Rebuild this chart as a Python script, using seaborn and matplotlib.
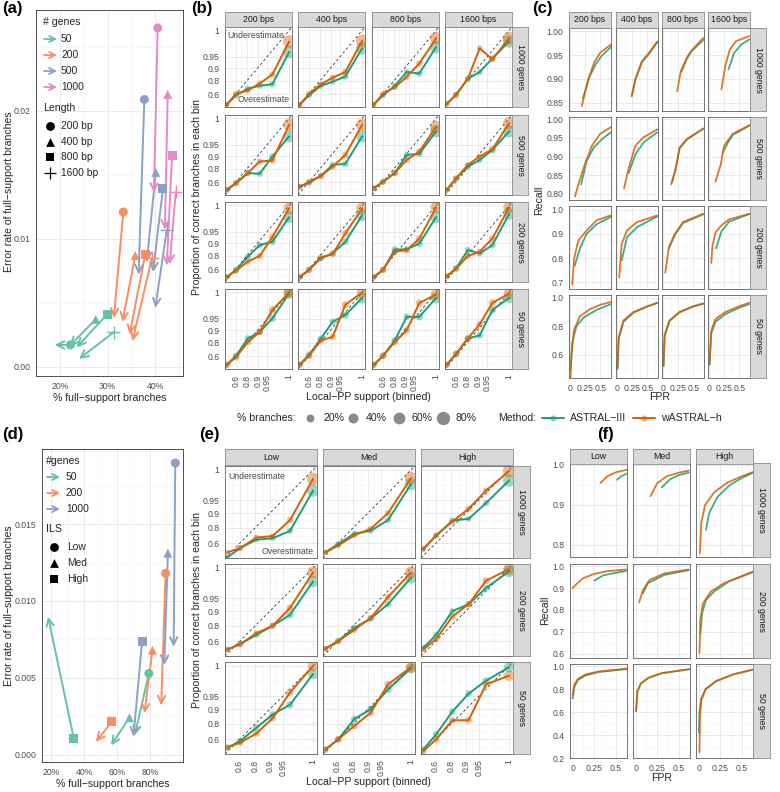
# -*- coding: utf-8 -*-
# ASTRAL-III x wASTRAL-h: erro dos ramos com suporte total, calibracao do local PP e recall x FPR
import numpy as np
import pandas as pd
import matplotlib
matplotlib.use('Agg')
import matplotlib.pyplot as plt
import seaborn as sns

sns.set_theme(style='white')
plt.rcParams['font.family'] = ['Liberation Sans', 'DejaVu Sans']

# %% dados painel (a) - seta vai do ASTRAL-III (marcador) ao wASTRAL-h (ponta)
a_genes = ['50'] * 4 + ['200'] * 4 + ['500'] * 4 + ['1000'] * 4
a_length = ['200 bp', '400 bp', '800 bp', '1600 bp'] * 4
a_full_astral = [22.2, 27.5, 29.9, 31.3, 33.3, 35.8, 37.9, 39.3,
                 37.7, 40.1, 41.6, 42.4, 40.5, 42.6, 43.5, 44.3]
a_err_astral = [0.0017, 0.0037, 0.0041, 0.0027, 0.0121, 0.0087, 0.0088, 0.0085,
                0.0209, 0.0152, 0.0139, 0.0107, 0.0265, 0.0213, 0.0165, 0.0137]
a_full_wastral = [18.9, 22.0, 23.5, 24.0, 31.3, 33.1, 34.6, 35.2,
                  36.5, 38.2, 39.5, 40.0, 39.7, 42.0, 42.4, 43.0]
a_err_wastral = [0.0017, 0.0016, 0.0015, 0.0006, 0.0038, 0.0035, 0.0025, 0.0020,
                 0.0072, 0.0082, 0.0074, 0.0046, 0.0136, 0.0107, 0.0079, 0.0080]

# %% dados painel (d)
d_genes = ['50'] * 3 + ['200'] * 3 + ['1000'] * 3
d_ils = ['Low', 'Med', 'High'] * 3
d_full_astral = [79.4, 67.6, 33.7, 89.6, 81.6, 56.7, 95.5, 91.0, 75.3]
d_err_astral = [0.00528, 0.0024, 0.00104, 0.0118, 0.0068, 0.00213, 0.01898, 0.01311, 0.00739]
d_full_wastral = [70.8, 56.3, 18.0, 86.9, 76.7, 47.1, 94.5, 88.8, 70.0]
d_err_wastral = [0.00126, 0.0006, 0.00898, 0.0032, 0.0027, 0.00083, 0.00702, 0.00583, 0.00115]

# %% dados paineis (b) e (e) - proporcao correta por classe de suporte
bins = [0.32, 0.61, 0.81, 0.913, 0.968, 1.0]
b_bps = ['200 bps', '400 bps', '800 bps', '1600 bps']
b_rows = ['1000 genes', '500 genes', '200 genes', '50 genes']

b_astral_1000 = [[0.33, 0.58, 0.70, 0.74, 0.76, 0.964], [0.33, 0.58, 0.74, 0.79, 0.84, 0.973],
                 [0.33, 0.58, 0.74, 0.875, 0.864, 0.976], [0.36, 0.59, 0.82, 0.875, 0.944, 0.986]]
b_wastral_1000 = [[0.33, 0.61, 0.67, 0.77, 0.856, 0.986], [0.33, 0.61, 0.76, 0.83, 0.875, 0.987],
                  [0.33, 0.61, 0.72, 0.837, 0.923, 0.991], [0.36, 0.59, 0.82, 0.973, 0.941, 0.991]]
b_astral_500 = [[0.40, 0.59, 0.75, 0.74, 0.897, 0.973], [0.50, 0.59, 0.71, 0.837, 0.845, 0.973],
                [0.46, 0.61, 0.75, 0.906, 0.912, 0.983], [0.415, 0.67, 0.82, 0.875, 0.93, 0.983]]
b_wastral_500 = [[0.43, 0.58, 0.75, 0.864, 0.871, 0.993], [0.50, 0.61, 0.71, 0.82, 0.906, 0.993],
                 [0.46, 0.61, 0.75, 0.875, 0.923, 0.99], [0.415, 0.67, 0.837, 0.897, 0.933, 0.995]]
b_astral_200 = [[0.41, 0.59, 0.79, 0.887, 0.907, 0.985], [0.41, 0.59, 0.77, 0.823, 0.907, 0.988],
                [0.41, 0.59, 0.857, 0.857, 0.897, 0.985], [0.43, 0.62, 0.852, 0.823, 0.887, 0.99]]
b_wastral_200 = [[0.41, 0.57, 0.73, 0.797, 0.93, 0.997], [0.41, 0.59, 0.78, 0.817, 0.944, 0.997],
                 [0.41, 0.59, 0.838, 0.852, 0.923, 0.998], [0.43, 0.61, 0.797, 0.838, 0.923, 0.998]]
b_astral_50 = [[0.39, 0.61, 0.84, 0.888, 0.951, 0.999], [0.39, 0.63, 0.838, 0.939, 0.961, 0.994],
               [0.39, 0.61, 0.823, 0.956, 0.956, 0.994], [0.39, 0.645, 0.84, 0.865, 0.974, 0.994]]
b_wastral_50 = [[0.39, 0.58, 0.807, 0.888, 0.974, 1.0], [0.39, 0.61, 0.823, 0.853, 0.984, 1.0],
                [0.39, 0.61, 0.807, 0.898, 0.987, 0.998], [0.39, 0.645, 0.84, 0.929, 0.987, 0.999]]
b_pct_1000 = [3, 6, 6, 6, 9, 70]
b_pct_500 = [4, 7, 7, 7, 10, 65]
b_pct_200 = [5, 8, 8, 8, 12, 59]
b_pct_50 = [7, 10, 10, 10, 15, 48]

e_ils = ['Low', 'Med', 'High']
e_rows = ['1000 genes', '200 genes', '50 genes']
e_astral_1000 = [[0.27, 0.51, 0.66, 0.68, 0.77, 0.973], [0.41, 0.59, 0.74, 0.77, 0.86, 0.984],
                 [0.49, 0.715, 0.857, 0.868, 0.941, 0.989]]
e_wastral_1000 = [[0.41, 0.51, 0.69, 0.71, 0.86, 0.991], [0.41, 0.56, 0.72, 0.79, 0.90, 0.992],
                  [0.49, 0.72, 0.85, 0.92, 0.973, 0.999]]
e_astral_200 = [[0.43, 0.55, 0.70, 0.80, 0.88, 0.985], [0.45, 0.61, 0.78, 0.857, 0.93, 0.99],
                [0.47, 0.70, 0.90, 0.93, 0.974, 0.997]]
e_wastral_200 = [[0.43, 0.55, 0.72, 0.80, 0.915, 0.996], [0.45, 0.60, 0.76, 0.86, 0.953, 0.996],
                 [0.43, 0.64, 0.87, 0.93, 0.986, 0.999]]
e_astral_50 = [[0.43, 0.57, 0.76, 0.87, 0.92, 0.992], [0.38, 0.60, 0.84, 0.90, 0.967, 0.998],
               [0.38, 0.68, 0.887, 0.957, 0.983, 0.999]]
e_wastral_50 = [[0.43, 0.54, 0.69, 0.845, 0.96, 1.0], [0.38, 0.60, 0.78, 0.88, 0.977, 0.999],
                [0.34, 0.60, 0.83, 0.83, 0.977, 0.99]]
e_pct_1000 = [3, 6, 6, 6, 9, 70]
e_pct_200 = [5, 8, 8, 8, 12, 59]
e_pct_50 = [8, 11, 11, 11, 15, 44]

# %% dados painel (c) - recall x FPR (uma lista por comprimento)
c_fpr_astral_1000 = [[0.21, 0.26, 0.32, 0.42, 0.52, 0.62, 0.68], [0.24, 0.30, 0.41, 0.53, 0.67],
                     [0.30, 0.39, 0.47, 0.67], [0.32, 0.41, 0.53, 0.67]]
c_rec_astral_1000 = [[0.86, 0.88, 0.905, 0.93, 0.948, 0.96, 0.967], [0.864, 0.899, 0.935, 0.953, 0.977],
                     [0.915, 0.942, 0.958, 0.982], [0.92, 0.954, 0.972, 0.983]]
c_fpr_wastral_1000 = [[0.19, 0.24, 0.30, 0.40, 0.50, 0.60, 0.68], [0.24, 0.30, 0.41, 0.53, 0.67],
                      [0.23, 0.29, 0.39, 0.47, 0.67], [0.20, 0.27, 0.34, 0.44, 0.67]]
c_rec_wastral_1000 = [[0.843, 0.87, 0.90, 0.935, 0.955, 0.965, 0.972], [0.864, 0.899, 0.937, 0.955, 0.979],
                      [0.874, 0.916, 0.944, 0.96, 0.986], [0.878, 0.93, 0.961, 0.979, 0.99]]
c_fpr_astral_500 = [[0.18, 0.27, 0.39, 0.53, 0.68], [0.19, 0.30, 0.44, 0.67],
                    [0.14, 0.20, 0.27, 0.39, 0.67], [0.22, 0.30, 0.39, 0.67]]
c_rec_astral_500 = [[0.826, 0.888, 0.924, 0.947, 0.965], [0.856, 0.906, 0.938, 0.965],
                    [0.83, 0.862, 0.922, 0.945, 0.975], [0.91, 0.935, 0.958, 0.983]]
c_fpr_wastral_500 = [[0.074, 0.15, 0.24, 0.36, 0.50, 0.68], [0.11, 0.19, 0.30, 0.44, 0.67],
                     [0.13, 0.20, 0.27, 0.39, 0.67], [0.10, 0.19, 0.245, 0.39, 0.67]]
c_rec_wastral_500 = [[0.793, 0.834, 0.879, 0.929, 0.961, 0.979], [0.815, 0.87, 0.929, 0.952, 0.973],
                     [0.826, 0.865, 0.924, 0.947, 0.975], [0.833, 0.879, 0.929, 0.961, 0.984]]
c_fpr_astral_200 = [[0.07, 0.16, 0.27, 0.44, 0.68], [0.07, 0.16, 0.33, 0.67],
                    [0.09, 0.19, 0.33, 0.67], [0.11, 0.20, 0.33, 0.67]]
c_rec_astral_200 = [[0.768, 0.84, 0.90, 0.94, 0.97], [0.79, 0.886, 0.928, 0.972],
                    [0.84, 0.895, 0.945, 0.981], [0.84, 0.91, 0.95, 0.982]]
c_fpr_wastral_200 = [[0.03, 0.06, 0.13, 0.27, 0.44, 0.68], [0.03, 0.07, 0.16, 0.33, 0.67],
                     [0.03, 0.09, 0.19, 0.33, 0.67], [0.03, 0.05, 0.10, 0.20, 0.33, 0.67]]
c_rec_wastral_200 = [[0.69, 0.796, 0.872, 0.914, 0.956, 0.976], [0.72, 0.858, 0.914, 0.949, 0.976],
                     [0.74, 0.844, 0.90, 0.949, 0.983], [0.78, 0.85, 0.905, 0.935, 0.96, 0.983]]
c_fpr_astral_50 = [[0.0, 0.03, 0.10, 0.22, 0.44, 0.68], [0.0, 0.02, 0.10, 0.27, 0.50, 0.67],
                   [0.0, 0.02, 0.10, 0.27, 0.50, 0.67], [0.0, 0.03, 0.10, 0.27, 0.50, 0.67]]
c_rec_astral_50 = [[0.50, 0.685, 0.80, 0.86, 0.915, 0.955], [0.50, 0.71, 0.83, 0.895, 0.937, 0.963],
                   [0.52, 0.73, 0.835, 0.897, 0.938, 0.958], [0.53, 0.75, 0.83, 0.885, 0.93, 0.955]]
c_fpr_wastral_50 = [[0.0, 0.02, 0.06, 0.16, 0.33, 0.50, 0.68], [0.0, 0.02, 0.10, 0.27, 0.50, 0.67],
                    [0.0, 0.02, 0.10, 0.27, 0.50, 0.67], [0.0, 0.03, 0.10, 0.27, 0.50, 0.67]]
c_rec_wastral_50 = [[0.44, 0.61, 0.775, 0.87, 0.92, 0.95, 0.97], [0.50, 0.72, 0.84, 0.90, 0.94, 0.965],
                    [0.52, 0.74, 0.84, 0.90, 0.94, 0.96], [0.53, 0.77, 0.85, 0.90, 0.94, 0.965]]

# %% dados painel (f)
f_fpr_astral_1000 = [[0.51, 0.56, 0.62], [0.30, 0.40, 0.50, 0.61], [0.085, 0.12, 0.215, 0.36, 0.50, 0.62]]
f_rec_astral_1000 = [[0.963, 0.972, 0.978], [0.944, 0.965, 0.975, 0.981], [0.838, 0.879, 0.92, 0.95, 0.968, 0.98]]
f_fpr_wastral_1000 = [[0.32, 0.40, 0.50, 0.62], [0.17, 0.25, 0.36, 0.50, 0.61],
                      [0.015, 0.03, 0.074, 0.18, 0.33, 0.50, 0.62]]
f_rec_wastral_1000 = [[0.955, 0.972, 0.982, 0.988], [0.922, 0.955, 0.972, 0.981, 0.986],
                      [0.78, 0.855, 0.90, 0.932, 0.956, 0.972, 0.982]]
f_fpr_astral_200 = [[0.25, 0.35, 0.50, 0.62], [0.085, 0.14, 0.33, 0.61], [0.02, 0.04, 0.085, 0.18, 0.35, 0.62]]
f_rec_astral_200 = [[0.934, 0.958, 0.97, 0.978], [0.876, 0.922, 0.96, 0.982], [0.69, 0.785, 0.846, 0.885, 0.93, 0.972]]
f_fpr_wastral_200 = [[0.0, 0.05, 0.12, 0.25, 0.40, 0.62], [0.04, 0.085, 0.16, 0.33, 0.61],
                     [0.01, 0.02, 0.05, 0.14, 0.29, 0.62]]
f_rec_wastral_200 = [[0.90, 0.92, 0.945, 0.965, 0.977, 0.985], [0.834, 0.891, 0.937, 0.967, 0.985],
                     [0.603, 0.755, 0.83, 0.884, 0.922, 0.975]]
f_fpr_astral_50 = [[0.0, 0.02, 0.06, 0.15, 0.30, 0.62], [0.005, 0.02, 0.06, 0.15, 0.30, 0.62],
                   [0.003, 0.01, 0.03, 0.08, 0.20, 0.40, 0.62]]
f_rec_astral_50 = [[0.72, 0.82, 0.88, 0.92, 0.95, 0.975], [0.61, 0.78, 0.85, 0.90, 0.94, 0.975],
                   [0.42, 0.60, 0.72, 0.80, 0.87, 0.93, 0.97]]
f_fpr_wastral_50 = [[0.0, 0.02, 0.06, 0.15, 0.30, 0.62], [0.005, 0.02, 0.06, 0.15, 0.30, 0.62],
                    [0.01, 0.015, 0.03, 0.08, 0.20, 0.40, 0.62]]
f_rec_wastral_50 = [[0.75, 0.84, 0.89, 0.93, 0.955, 0.98], [0.61, 0.78, 0.85, 0.90, 0.94, 0.975],
                    [0.25, 0.55, 0.70, 0.80, 0.87, 0.93, 0.97]]

# %% estilo
W, H = 780, 792
fig = plt.figure(figsize=(W / 100, H / 100), dpi=100)

pal = {'ASTRAL-III': '#1b9e77', 'wASTRAL-h': '#d95f02'}
set2 = {'50': '#66c2a5', '200': '#fc8d62', '500': '#8da0cb', '1000': '#e78ac3'}
TXT = '#4d4d4d'
TICK = 6.2
TITLE = 7.6


def px(x, y, w, h):
    # caixa em pixels (origem no topo) -> coordenadas da figura
    return [x / W, 1 - (y + h) / H, w / W, h / H]


def base_style(ax):
    ax.set_facecolor('white')
    ax.set_axisbelow(True)
    for s in ax.spines.values():
        s.set_color('#5e5e5e')
        s.set_linewidth(0.6)
    ax.tick_params(which='major', length=2.5, width=0.5, color='#4d4d4d',
                   labelsize=TICK, labelcolor=TXT, pad=1.5)
    ax.tick_params(which='minor', length=0)
    ax.grid(which='major', color='#e6e6e6', lw=0.6)
    ax.grid(which='minor', color='#f4f4f4', lw=0.45)
    ax.set_xlabel('')
    ax.set_ylabel('')


def strip(x, y, w, h, label, rot=0):
    sax = fig.add_axes(px(x, y, w, h))
    sax.set_facecolor('#d9d9d9')
    sax.set_xticks([])
    sax.set_yticks([])
    for s in sax.spines.values():
        s.set_color('#8c8c8c')
        s.set_linewidth(0.6)
    sax.text(0.5, 0.5, label, rotation=rot, ha='center', va='center',
             fontsize=6.3, color='#1a1a1a', transform=sax.transAxes)


# escala do local PP: -log10(1.02 - p)
def fwd(p):
    p = np.asarray(p, dtype=float)
    return -np.log10(np.clip(1.02 - p, 1e-6, None))


def inv(f):
    return 1.02 - 10 ** (-np.asarray(f, dtype=float))


pp_ticks = [0.6, 0.8, 0.9, 0.95, 1.0]
pp_labels = ['0.6', '0.8', '0.9', '0.95', '1']
tf = fwd(pp_ticks)
pp_minor = list(inv(np.r_[tf[0] - (tf[1] - tf[0]) / 2, (tf[:-1] + tf[1:]) / 2]))
lim_pp = (0.25, 1.003)


def calib_panel(ax, astral, wastral, pct, show_x, show_y):
    d = pd.DataFrame({
        'support': bins + bins,
        'correct': list(astral) + list(wastral),
        'pct': pct + pct,
        'Method': ['ASTRAL-III'] * len(bins) + ['wASTRAL-h'] * len(bins)})
    sns.scatterplot(data=d, x='support', y='correct', hue='Method', size='pct',
                    sizes=(12, 112), size_norm=(0, 100), palette=pal, alpha=0.42,
                    linewidth=0, legend=False, ax=ax, zorder=2)
    sns.lineplot(data=d, x='support', y='correct', hue='Method', palette=pal,
                 estimator=None, sort=False, lw=1.4, legend=False, ax=ax, zorder=3)
    ax.set_xscale('function', functions=(fwd, inv))
    ax.set_yscale('function', functions=(fwd, inv))
    ax.plot(lim_pp, lim_pp, color='#333333', lw=0.6, ls=(0, (3, 3)), zorder=1)
    ax.set_xlim(lim_pp)
    ax.set_ylim(lim_pp)
    ax.set_xticks(pp_ticks)
    ax.set_xticks(pp_minor, minor=True)
    ax.set_yticks(pp_ticks)
    ax.set_yticks(pp_minor, minor=True)
    ax.set_xticklabels(pp_labels if show_x else [], rotation=90)
    ax.set_yticklabels(pp_labels if show_y else [])
    ax.xaxis.set_minor_formatter(plt.NullFormatter())
    ax.yaxis.set_minor_formatter(plt.NullFormatter())
    base_style(ax)
    if not show_x:
        ax.tick_params(axis='x', which='major', length=0)
    if not show_y:
        ax.tick_params(axis='y', which='major', length=0)


def roc_panel(ax, fa, ra, fw, rw, xlim, ylim, yticks, ylabels, show_x, show_y):
    d = pd.DataFrame({
        'FPR': list(fa) + list(fw),
        'Recall': list(ra) + list(rw),
        'Method': ['ASTRAL-III'] * len(fa) + ['wASTRAL-h'] * len(fw)})
    sns.lineplot(data=d, x='FPR', y='Recall', hue='Method', palette=pal,
                 estimator=None, sort=False, lw=1.3, alpha=0.85, legend=False, ax=ax)
    ax.set_xlim(xlim)
    ax.set_ylim(ylim)
    ax.set_xticks([0, 0.25, 0.5])
    ax.set_xticks([0.125, 0.375, 0.625], minor=True)
    ax.set_xticklabels(['0', '0.25', '0.5'] if show_x else [])
    ax.set_yticks(yticks)
    ym = np.asarray(yticks, dtype=float)
    step = ym[1] - ym[0]
    ax.set_yticks(list(np.r_[ym[0] - step / 2, ym + step / 2]), minor=True)
    ax.set_ylim(ylim)
    ax.set_yticklabels(ylabels if show_y else [])
    base_style(ax)
    if not show_x:
        ax.tick_params(axis='x', which='major', length=0)
    if not show_y:
        ax.tick_params(axis='y', which='major', length=0)


def arrow_panel(ax, genes, shapes, x0, y0, x1, y1, palette, markers):
    for i in range(len(genes)):
        ax.annotate('', xy=(x1[i], y1[i]), xytext=(x0[i], y0[i]),
                    arrowprops=dict(arrowstyle='->,head_length=0.45,head_width=0.22',
                                    color=palette[genes[i]], lw=1.4, shrinkA=0, shrinkB=0),
                    zorder=2)
    d = pd.DataFrame({'x': x0, 'y': y0, 'genes': genes, 'shape': shapes})
    filled = d[d['shape'].map(markers) != '+']
    cross = d[d['shape'].map(markers) == '+']
    sns.scatterplot(data=filled, x='x', y='y', hue='genes', style='shape',
                    markers={k: v for k, v in markers.items() if v != '+'},
                    palette=palette, s=42, linewidth=0, legend=False, ax=ax, zorder=3)
    if len(cross):
        sns.scatterplot(data=cross, x='x', y='y', hue='genes', palette=palette,
                        marker='+', s=90, linewidth=1.0, legend=False, ax=ax, zorder=3)


# %% painel (a)
ax_a = fig.add_axes(px(36, 10, 147, 366))
arrow_panel(ax_a, a_genes, a_length, a_full_astral, a_err_astral, a_full_wastral,
            a_err_wastral, set2, {'200 bp': 'o', '400 bp': '^', '800 bp': 's', '1600 bp': '+'})
ax_a.set_xlim(16.7, 45.8)
ax_a.set_ylim(-0.00073, 0.0279)
ax_a.set_xticks([20, 30, 40])
ax_a.set_xticks([15, 25, 35, 45], minor=True)
ax_a.set_xticklabels(['20%', '30%', '40%'])
ax_a.set_yticks([0.0, 0.01, 0.02])
ax_a.set_yticks([0.005, 0.015, 0.025], minor=True)
ax_a.set_yticklabels(['0.00', '0.01', '0.02'])
base_style(ax_a)
for s in ax_a.spines.values():
    s.set_color('#333333')
ax_a.set_xlabel('% full\u2212support branches', fontsize=TITLE, labelpad=2)

# %% painel (d)
ax_d = fig.add_axes(px(42, 449, 141, 313))
arrow_panel(ax_d, d_genes, d_ils, d_full_astral, d_err_astral, d_full_wastral,
            d_err_wastral, {'50': '#66c2a5', '200': '#fc8d62', '1000': '#8da0cb'},
            {'Low': 'o', 'Med': '^', 'High': 's'})
ax_d.set_xlim(14.3, 100.2)
ax_d.set_ylim(-0.00048, 0.01989)
ax_d.set_xticks([20, 40, 60, 80])
ax_d.set_xticks([30, 50, 70, 90], minor=True)
ax_d.set_xticklabels(['20%', '40%', '60%', '80%'])
ax_d.set_yticks([0.0, 0.005, 0.01, 0.015])
ax_d.set_yticks([0.0025, 0.0075, 0.0125, 0.0175], minor=True)
ax_d.set_yticklabels(['0.000', '0.005', '0.010', '0.015'])
base_style(ax_d)
for s in ax_d.spines.values():
    s.set_color('#333333')
ax_d.set_xlabel('% full\u2212support branches', fontsize=TITLE, labelpad=2)

# %% painel (b)
b_cols_x = [225, 298, 372, 445]
b_rows_y = [27, 115, 202, 289]
b_astral = [b_astral_1000, b_astral_500, b_astral_200, b_astral_50]
b_wastral = [b_wastral_1000, b_wastral_500, b_wastral_200, b_wastral_50]
b_pct = [b_pct_1000, b_pct_500, b_pct_200, b_pct_50]
for i, gy in enumerate(b_rows_y):
    for j, gx in enumerate(b_cols_x):
        ax = fig.add_axes(px(gx, gy, 67, 80))
        calib_panel(ax, b_astral[i][j], b_wastral[i][j], b_pct[i], i == 3, j == 0)
        if i == 0 and j == 0:
            ax.text(0.03, 0.9, 'Underestimate', transform=ax.transAxes, fontsize=6.3,
                    color=TXT, ha='left', va='center')
            ax.text(0.97, 0.09, 'Overestimate', transform=ax.transAxes, fontsize=6.3,
                    color=TXT, ha='right', va='center')
    strip(512, gy, 16, 80, b_rows[i], rot=-90)
for j, gx in enumerate(b_cols_x):
    strip(gx, 12, 67, 15, b_bps[j])

# %% painel (c)
c_cols_x = [569, 616, 662, 708]
c_rows_y = [28, 117, 206, 295]
c_fa = [c_fpr_astral_1000, c_fpr_astral_500, c_fpr_astral_200, c_fpr_astral_50]
c_ra = [c_rec_astral_1000, c_rec_astral_500, c_rec_astral_200, c_rec_astral_50]
c_fw = [c_fpr_wastral_1000, c_fpr_wastral_500, c_fpr_wastral_200, c_fpr_wastral_50]
c_rw = [c_rec_wastral_1000, c_rec_wastral_500, c_rec_wastral_200, c_rec_wastral_50]
c_ylims = [(0.8325, 1.007), (0.7836, 1.006), (0.672, 1.015), (0.435, 1.019)]
c_yticks = [[0.85, 0.90, 0.95, 1.00], [0.80, 0.85, 0.90, 0.95, 1.00], [0.7, 0.8, 0.9, 1.0], [0.6, 0.8, 1.0]]
c_ylabels = [['0.85', '0.90', '0.95', '1.00'], ['0.80', '0.85', '0.90', '0.95', '1.00'],
             ['0.7', '0.8', '0.9', '1.0'], ['0.6', '0.8', '1.0']]
for i, gy in enumerate(c_rows_y):
    for j, gx in enumerate(c_cols_x):
        ax = fig.add_axes(px(gx, gy, 42, 83))
        roc_panel(ax, c_fa[i][j], c_ra[i][j], c_fw[i][j], c_rw[i][j], (-0.025, 0.68),
                  c_ylims[i], c_yticks[i], c_ylabels[i], i == 3, j == 0)
    strip(750, gy, 16, 83, b_rows[i], rot=-90)
for j, gx in enumerate(c_cols_x):
    strip(gx, 12, 42, 16, b_bps[j])

# %% painel (e)
e_cols_x = [225, 323, 421]
e_rows_y = [466, 564, 662]
e_astral = [e_astral_1000, e_astral_200, e_astral_50]
e_wastral = [e_wastral_1000, e_wastral_200, e_wastral_50]
e_pct = [e_pct_1000, e_pct_200, e_pct_50]
for i, gy in enumerate(e_rows_y):
    for j, gx in enumerate(e_cols_x):
        ax = fig.add_axes(px(gx, gy, 92, 92))
        calib_panel(ax, e_astral[i][j], e_wastral[i][j], e_pct[i], i == 2, j == 0)
        if i == 0 and j == 0:
            ax.text(0.04, 0.89, 'Underestimate', transform=ax.transAxes, fontsize=6.3,
                    color=TXT, ha='left', va='center')
            ax.text(0.96, 0.07, 'Overestimate', transform=ax.transAxes, fontsize=6.3,
                    color=TXT, ha='right', va='center')
    strip(513, gy, 17, 92, e_rows[i], rot=-90)
for j, gx in enumerate(e_cols_x):
    strip(gx, 449, 92, 16, e_ils[j])

# %% painel (f)
f_cols_x = [570, 633, 696]
f_rows_y = [463, 564, 664]
f_fa = [f_fpr_astral_1000, f_fpr_astral_200, f_fpr_astral_50]
f_ra = [f_rec_astral_1000, f_rec_astral_200, f_rec_astral_50]
f_fw = [f_fpr_wastral_1000, f_fpr_wastral_200, f_fpr_wastral_50]
f_rw = [f_rec_wastral_1000, f_rec_wastral_200, f_rec_wastral_50]
f_ylims = [(0.77, 1.005), (0.58, 1.01), (0.2, 1.02)]
f_yticks = [[0.8, 0.9, 1.0], [0.6, 0.7, 0.8, 0.9, 1.0], [0.2, 0.4, 0.6, 0.8, 1.0]]
f_ylabels = [['0.8', '0.9', '1.0'], ['0.6', '0.7', '0.8', '0.9', '1.0'], ['0.2', '0.4', '0.6', '0.8', '1.0']]
for i, gy in enumerate(f_rows_y):
    for j, gx in enumerate(f_cols_x):
        ax = fig.add_axes(px(gx, gy, 57, 94))
        roc_panel(ax, f_fa[i][j], f_ra[i][j], f_fw[i][j], f_rw[i][j], (-0.03, 0.62),
                  f_ylims[i], f_yticks[i], f_ylabels[i], i == 2, j == 0)
    strip(753, gy, 17, 94, e_rows[i], rot=-90)
for j, gx in enumerate(f_cols_x):
    strip(gx, 449, 57, 15, e_ils[j])

# %% textos gerais e legendas
ov = fig.add_axes([0, 0, 1, 1], zorder=10)
ov.set_xlim(0, W)
ov.set_ylim(H, 0)
ov.axis('off')
ov.patch.set_alpha(0)

for lbl, x, y in [('(a)', 2, 1), ('(b)', 191, 1), ('(c)', 532, 1),
                  ('(d)', 2, 427), ('(e)', 199, 427), ('(f)', 597, 427)]:
    ov.text(x, y, lbl, fontsize=12, fontweight='bold', ha='left', va='top', color='black')

err_lab = 'Error rate of full\u2212support branches'
ov.text(9, 192, err_lab, rotation=90, ha='center', va='center', fontsize=TITLE)
ov.text(9, 606, err_lab, rotation=90, ha='center', va='center', fontsize=TITLE)
ylab = 'Proportion of correct branches in each bin'
ov.text(197, 197, ylab, rotation=90, ha='center', va='center', fontsize=TITLE)
ov.text(197, 610, ylab, rotation=90, ha='center', va='center', fontsize=TITLE)
ov.text(539, 200, 'Recall', rotation=90, ha='center', va='center', fontsize=TITLE)
ov.text(545, 610, 'Recall', rotation=90, ha='center', va='center', fontsize=TITLE)
ov.text(368, 397, 'Local\u2212PP support (binned)', ha='center', va='center', fontsize=TITLE)
ov.text(368, 782, 'Local\u2212PP support (binned)', ha='center', va='center', fontsize=TITLE)
ov.text(660, 397, 'FPR', ha='center', va='center', fontsize=TITLE)
ov.text(662, 778, 'FPR', ha='center', va='center', fontsize=TITLE)

# legenda de tamanho e metodo
ov.text(296, 418, '% branches:', ha='right', va='center', fontsize=TITLE)
for p, xc in zip([20, 40, 60, 80], [310, 353, 399, 443]):
    ov.scatter([xc], [418], s=12 + p, color='#8a8a8a', linewidth=0)
    ov.text(xc + 13, 418, f'{p}%', ha='left', va='center', fontsize=TITLE)
ov.text(536, 418, 'Method:', ha='right', va='center', fontsize=TITLE)
for name, x0 in [('ASTRAL-III', 542), ('wASTRAL-h', 633)]:
    ov.plot([x0, x0 + 22], [418, 418], color=pal[name], lw=1.4)
    ov.scatter([x0 + 11], [418], s=18, color=pal[name], alpha=0.5, linewidth=0)
    ov.text(x0 + 28, 418, name.replace('-', '\u2212'), ha='left', va='center', fontsize=TITLE)

# legenda do painel (a)
ov.text(43, 22, '# genes', ha='left', va='center', fontsize=7.6)
for g, y in zip(['50', '200', '500', '1000'], [39, 55, 71, 87]):
    ov.annotate('', xy=(57, y), xytext=(44, y),
                arrowprops=dict(arrowstyle='->,head_length=0.35,head_width=0.18',
                                color=set2[g], lw=1.3, shrinkA=0, shrinkB=0))
    ov.text(61, y, g, ha='left', va='center', fontsize=7.4)
ov.text(43, 108, 'Length', ha='left', va='center', fontsize=7.6)
for lab, mk, y in zip(['200 bp', '400 bp', '800 bp', '1600 bp'], ['o', '^', 's', '+'],
                      [126, 142, 157, 173]):
    ov.scatter([50], [y], marker=mk, s=40 if mk != '+' else 80, color='black',
               linewidth=0 if mk != '+' else 0.9)
    ov.text(61, y, lab, ha='left', va='center', fontsize=7.4)

# legenda do painel (d)
ov.text(46, 461, '#genes', ha='left', va='center', fontsize=7.6)
for g, c, y in zip(['50', '200', '1000'], ['#66c2a5', '#fc8d62', '#8da0cb'], [477, 493, 509]):
    ov.annotate('', xy=(60, y), xytext=(47, y),
                arrowprops=dict(arrowstyle='->,head_length=0.35,head_width=0.18',
                                color=c, lw=1.3, shrinkA=0, shrinkB=0))
    ov.text(66, y, g, ha='left', va='center', fontsize=7.4)
ov.text(46, 529, 'ILS', ha='left', va='center', fontsize=7.6)
for lab, mk, y in zip(['Low', 'Med', 'High'], ['o', '^', 's'], [547, 563, 579]):
    ov.scatter([54], [y], marker=mk, s=40, color='black', linewidth=0)
    ov.text(67, y, lab, ha='left', va='center', fontsize=7.4)

fig.savefig('out.png', dpi=100)
